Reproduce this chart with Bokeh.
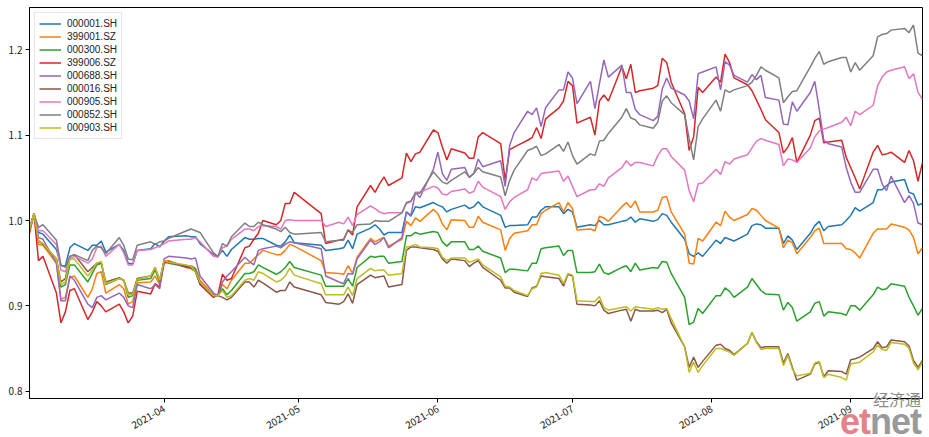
import math
import pandas as pd
from bokeh.plotting import figure
from bokeh.layouts import column
from bokeh.models import (ColumnDataSource, FixedTicker, DatetimeTickFormatter,
                          PrintfTickFormatter, Legend, LegendItem, Range1d, Div)
from bokeh.embed import file_html
from bokeh.resources import INLINE

# ---- trading days (2021) ----
MAR = [2, 3, 4, 5, 8, 9, 10, 11, 12, 15, 16, 17, 18, 19, 22, 23, 24, 25, 26, 29, 30, 31]
APR = [1, 2, 6, 7, 8, 9, 12, 13, 14, 15, 16, 19, 20, 21, 22, 23, 26, 27, 28, 29, 30]
MAY = [6, 7, 10, 11, 12, 13, 14, 17, 18, 19, 20, 21, 24, 25, 26, 27, 28, 31]
JUN = [1, 2, 3, 4, 7, 8, 9, 10, 11, 15, 16, 17, 18, 21, 22, 23, 24, 25, 28, 29, 30]
JUL = [1, 2, 5, 6, 7, 8, 9, 12, 13, 14, 15, 16, 19, 20, 21, 22, 23, 26, 27, 28, 29, 30]
AUG = [2, 3, 4, 5, 6, 9, 10, 11, 12, 13, 16, 17, 18, 19, 20, 23, 24, 25, 26, 27, 30, 31]
SEP = [1, 2, 3, 6, 7, 8, 9, 10, 13, 14, 15, 16, 17]

DATES = ([f"2021-03-{d:02d}" for d in MAR] + [f"2021-04-{d:02d}" for d in APR] +
         [f"2021-05-{d:02d}" for d in MAY] + [f"2021-06-{d:02d}" for d in JUN] +
         [f"2021-07-{d:02d}" for d in JUL] + [f"2021-08-{d:02d}" for d in AUG] +
         [f"2021-09-{d:02d}" for d in SEP])

NAMES = ["000001.SH", "399001.SZ", "000300.SH", "399006.SZ", "000688.SH",
         "000016.SH", "000905.SH", "000852.SH", "000903.SH"]

S000001 = [0.990, 1.008, 0.986, 0.984, 0.966, 0.947, 0.947, 0.968, 0.973, 0.965, 0.971, 0.971, 0.976, 0.963, 0.972, 0.965, 0.950, 0.949, 0.965, 0.967, 0.973, 0.969,
           0.976, 0.981, 0.982, 0.981, 0.981, 0.973, 0.960, 0.958, 0.965, 0.958, 0.966, 0.980, 0.978, 0.978, 0.979, 0.979, 0.971, 0.970, 0.975, 0.983, 0.974,
           0.971, 0.965, 0.967, 0.968, 0.977, 0.967, 0.984, 0.991, 0.995, 0.990, 0.983, 0.986, 0.986, 1.010, 1.005, 1.016, 1.015, 1.021,
           1.018, 1.016, 1.010, 1.013, 1.018, 1.014, 1.016, 1.022, 1.016, 1.006, 0.992, 0.994, 0.994, 0.995, 1.004, 1.004, 1.012, 1.016, 1.016, 1.008, 1.013,
           1.010, 0.992, 0.995, 0.994, 1.000, 0.995, 0.995, 0.999, 1.000, 1.004, 0.998, 1.002, 0.999, 1.001, 1.008, 1.006, 0.998, 0.978, 0.961, 0.958, 0.962, 0.958,
           0.977, 0.973, 0.980, 0.978, 0.976, 0.984, 0.994, 0.996, 0.995, 0.991, 0.991, 0.973, 0.982, 0.977, 0.966, 0.985, 0.994, 0.999, 0.988, 0.993, 0.995, 1.000,
           1.006, 1.015, 1.011, 1.021, 1.036, 1.036, 1.041, 1.045, 1.048, 1.033, 1.031, 1.018, 1.020]

S399001 = [0.990, 1.008, 0.972, 0.971, 0.950, 0.908, 0.910, 0.933, 0.935, 0.910, 0.920, 0.938, 0.940, 0.915, 0.925, 0.920, 0.902, 0.905, 0.927, 0.928, 0.935, 0.925,
           0.952, 0.953, 0.946, 0.947, 0.944, 0.930, 0.913, 0.912, 0.925, 0.920, 0.930, 0.950, 0.950, 0.955, 0.960, 0.965, 0.960, 0.960, 0.965, 0.972, 0.970,
           0.953, 0.939, 0.938, 0.937, 0.947, 0.938, 0.957, 0.979, 0.975, 0.978, 0.980, 0.970, 0.978, 0.999, 0.994, 1.003, 0.999, 1.013,
           1.008, 0.996, 0.989, 1.001, 1.000, 0.992, 0.992, 1.005, 0.998, 0.989, 0.965, 0.979, 0.985, 0.988, 0.995, 0.995, 1.008, 1.012, 1.021, 1.010, 1.021,
           1.014, 0.989, 0.990, 0.988, 1.005, 1.003, 0.999, 1.016, 1.021, 1.015, 1.023, 1.010, 1.010, 1.012, 1.027, 1.028, 1.010, 0.984, 0.950, 0.949, 0.979, 0.976,
           0.998, 0.994, 1.011, 1.004, 1.000, 1.007, 1.014, 1.012, 1.006, 1.000, 0.991, 0.968, 0.977, 0.974, 0.961, 0.980, 0.988, 0.991, 0.973, 0.973, 0.973, 0.967,
           0.966, 0.962, 0.956, 0.985, 0.990, 0.990, 0.990, 0.996, 0.992, 0.989, 0.980, 0.961, 0.968]

S000300 = [0.990, 1.008, 0.976, 0.973, 0.955, 0.922, 0.925, 0.948, 0.948, 0.928, 0.938, 0.948, 0.950, 0.925, 0.932, 0.930, 0.910, 0.912, 0.930, 0.932, 0.942, 0.928,
           0.952, 0.950, 0.946, 0.946, 0.943, 0.928, 0.912, 0.913, 0.920, 0.913, 0.918, 0.938, 0.938, 0.940, 0.948, 0.945, 0.937, 0.940, 0.945, 0.952, 0.945,
           0.936, 0.923, 0.923, 0.923, 0.932, 0.923, 0.945, 0.958, 0.957, 0.958, 0.958, 0.950, 0.952, 0.982, 0.982, 0.986, 0.984, 0.987,
           0.986, 0.975, 0.970, 0.975, 0.975, 0.966, 0.966, 0.970, 0.964, 0.956, 0.939, 0.943, 0.943, 0.941, 0.950, 0.950, 0.967, 0.968, 0.970, 0.959, 0.965,
           0.965, 0.939, 0.939, 0.940, 0.949, 0.939, 0.937, 0.945, 0.947, 0.940, 0.950, 0.942, 0.945, 0.944, 0.952, 0.951, 0.938, 0.910, 0.878, 0.881, 0.897, 0.891,
           0.912, 0.912, 0.921, 0.917, 0.910, 0.922, 0.932, 0.925, 0.918, 0.914, 0.913, 0.895, 0.904, 0.898, 0.882, 0.893, 0.903, 0.905, 0.888, 0.893, 0.891, 0.889,
           0.900, 0.900, 0.895, 0.913, 0.922, 0.919, 0.920, 0.926, 0.923, 0.910, 0.900, 0.889, 0.897]

S399006 = [0.985, 1.008, 0.953, 0.958, 0.915, 0.880, 0.893, 0.918, 0.920, 0.884, 0.893, 0.905, 0.900, 0.893, 0.902, 0.893, 0.880, 0.888, 0.917, 0.914, 0.926, 0.922,
           0.950, 0.952, 0.945, 0.944, 0.940, 0.925, 0.910, 0.913, 0.937, 0.930, 0.932, 0.968, 0.970, 0.978, 0.985, 1.000, 0.995, 1.000, 1.020, 1.020, 1.033,
           1.008, 0.973, 0.977, 0.978, 0.989, 0.983, 1.016, 1.041, 1.033, 1.043, 1.051, 1.041, 1.050, 1.079, 1.069, 1.078, 1.080, 1.106,
           1.103, 1.086, 1.071, 1.084, 1.079, 1.073, 1.073, 1.098, 1.103, 1.090, 1.047, 1.083, 1.086, 1.094, 1.097, 1.109, 1.096, 1.119, 1.132, 1.140, 1.163,
           1.158, 1.114, 1.121, 1.100, 1.140, 1.147, 1.140, 1.180, 1.166, 1.183, 1.150, 1.152, 1.155, 1.158, 1.190, 1.185, 1.162, 1.125, 1.082, 1.098, 1.156, 1.150,
           1.168, 1.162, 1.195, 1.185, 1.167, 1.159, 1.152, 1.141, 1.130, 1.118, 1.103, 1.079, 1.086, 1.097, 1.068, 1.100, 1.117, 1.120, 1.091, 1.092, 1.094, 1.074,
           1.062, 1.050, 1.037, 1.080, 1.088, 1.077, 1.078, 1.080, 1.068, 1.082, 1.070, 1.046, 1.068]

S000688 = [0.990, 1.008, 0.980, 0.978, 0.950, 0.906, 0.906, 0.935, 0.930, 0.902, 0.898, 0.910, 0.912, 0.907, 0.915, 0.910, 0.900, 0.898, 0.925, 0.920, 0.925, 0.920,
           0.955, 0.958, 0.956, 0.955, 0.956, 0.935, 0.915, 0.912, 0.928, 0.935, 0.940, 0.957, 0.952, 0.948, 0.965, 0.967, 0.970, 0.968, 0.972, 0.975, 0.974,
           0.967, 0.935, 0.928, 0.926, 0.938, 0.937, 0.955, 0.977, 0.972, 0.975, 0.980, 0.968, 0.980, 1.010, 1.006, 1.033, 1.027, 1.060,
           1.080, 1.055, 1.047, 1.060, 1.062, 1.050, 1.055, 1.072, 1.063, 1.070, 1.040, 1.088, 1.103, 1.128, 1.124, 1.132, 1.110, 1.132, 1.153, 1.153, 1.174,
           1.167, 1.137, 1.163, 1.131, 1.160, 1.188, 1.168, 1.182, 1.150, 1.150, 1.130, 1.124, 1.117, 1.122, 1.154, 1.167, 1.155, 1.147, 1.140, 1.119, 1.172, 1.174,
           1.180, 1.153, 1.186, 1.182, 1.170, 1.162, 1.171, 1.165, 1.170, 1.144, 1.141, 1.113, 1.112, 1.139, 1.128, 1.150, 1.163, 1.130, 1.094, 1.090, 1.086, 1.062,
           1.045, 1.033, 1.033, 1.060, 1.060, 1.043, 1.035, 1.052, 1.021, 1.029, 1.020, 0.997, 0.995]

S000016 = [0.990, 1.008, 0.976, 0.972, 0.955, 0.928, 0.932, 0.958, 0.960, 0.940, 0.945, 0.950, 0.950, 0.928, 0.933, 0.930, 0.915, 0.915, 0.932, 0.935, 0.945, 0.930,
           0.953, 0.951, 0.946, 0.945, 0.940, 0.926, 0.912, 0.912, 0.910, 0.907, 0.910, 0.928, 0.928, 0.922, 0.930, 0.927, 0.916, 0.918, 0.918, 0.928, 0.922,
           0.913, 0.904, 0.902, 0.905, 0.914, 0.903, 0.925, 0.936, 0.933, 0.934, 0.935, 0.922, 0.925, 0.965, 0.969, 0.969, 0.968, 0.966,
           0.964, 0.955, 0.950, 0.955, 0.953, 0.946, 0.950, 0.953, 0.945, 0.930, 0.921, 0.921, 0.916, 0.911, 0.921, 0.923, 0.935, 0.934, 0.932, 0.923, 0.937,
           0.935, 0.902, 0.901, 0.900, 0.906, 0.895, 0.891, 0.895, 0.896, 0.882, 0.896, 0.894, 0.894, 0.895, 0.892, 0.896, 0.880, 0.852, 0.828, 0.840, 0.828, 0.835,
           0.854, 0.855, 0.850, 0.848, 0.843, 0.856, 0.869, 0.858, 0.851, 0.852, 0.852, 0.833, 0.844, 0.828, 0.813, 0.820, 0.832, 0.834, 0.817, 0.824, 0.823, 0.820,
           0.837, 0.838, 0.840, 0.850, 0.858, 0.851, 0.852, 0.860, 0.858, 0.853, 0.836, 0.828, 0.836]

S000905 = [0.990, 1.008, 0.988, 0.988, 0.972, 0.942, 0.940, 0.955, 0.958, 0.950, 0.955, 0.968, 0.970, 0.958, 0.972, 0.962, 0.948, 0.948, 0.965, 0.966, 0.968, 0.970,
           0.973, 0.976, 0.978, 0.978, 0.980, 0.975, 0.958, 0.957, 0.968, 0.970, 0.978, 0.990, 0.990, 0.988, 0.993, 0.994, 0.993, 0.990, 1.000, 1.001, 1.000,
           1.000, 0.993, 0.998, 0.996, 1.004, 0.994, 1.007, 1.017, 1.014, 1.010, 1.008, 1.009, 1.009, 1.020, 1.022, 1.033, 1.033, 1.040,
           1.038, 1.031, 1.030, 1.034, 1.037, 1.032, 1.034, 1.046, 1.039, 1.028, 1.013, 1.022, 1.027, 1.036, 1.050, 1.047, 1.055, 1.056, 1.058, 1.046, 1.052,
           1.040, 1.028, 1.036, 1.036, 1.043, 1.040, 1.050, 1.062, 1.070, 1.064, 1.068, 1.068, 1.064, 1.076, 1.084, 1.084, 1.075, 1.059, 1.035, 1.022, 1.043, 1.044,
           1.060, 1.054, 1.069, 1.066, 1.072, 1.077, 1.085, 1.093, 1.096, 1.094, 1.089, 1.064, 1.072, 1.071, 1.068, 1.085, 1.098, 1.105, 1.107, 1.109, 1.115, 1.121,
           1.111, 1.128, 1.124, 1.135, 1.158, 1.168, 1.174, 1.176, 1.180, 1.166, 1.172, 1.150, 1.142]

S000852 = [0.990, 1.008, 0.992, 0.995, 0.977, 0.948, 0.945, 0.958, 0.960, 0.953, 0.965, 0.970, 0.968, 0.961, 0.980, 0.971, 0.955, 0.954, 0.971, 0.975, 0.972, 0.975,
           0.976, 0.979, 0.988, 0.990, 0.988, 0.986, 0.962, 0.958, 0.973, 0.970, 0.981, 0.997, 0.993, 0.993, 0.998, 0.995, 0.990, 0.987, 0.992, 0.986, 0.984,
           0.986, 0.975, 0.977, 0.977, 0.989, 0.986, 0.995, 0.996, 1.000, 0.999, 0.999, 0.999, 1.009, 1.021, 1.023, 1.032, 1.032, 1.057,
           1.051, 1.045, 1.043, 1.047, 1.057, 1.051, 1.055, 1.062, 1.057, 1.051, 1.029, 1.047, 1.059, 1.082, 1.084, 1.087, 1.076, 1.078, 1.089, 1.081, 1.092,
           1.076, 1.066, 1.078, 1.076, 1.093, 1.094, 1.102, 1.121, 1.131, 1.120, 1.118, 1.112, 1.108, 1.115, 1.140, 1.146, 1.138, 1.124, 1.096, 1.071, 1.110, 1.119,
           1.141, 1.128, 1.153, 1.150, 1.153, 1.158, 1.162, 1.170, 1.180, 1.176, 1.167, 1.138, 1.145, 1.151, 1.152, 1.180, 1.190, 1.198, 1.183, 1.186, 1.191, 1.191,
           1.174, 1.185, 1.176, 1.193, 1.215, 1.218, 1.219, 1.223, 1.225, 1.220, 1.229, 1.196, 1.193]

S000903 = [0.990, 1.008, 0.976, 0.973, 0.955, 0.925, 0.928, 0.955, 0.955, 0.935, 0.942, 0.950, 0.952, 0.926, 0.932, 0.930, 0.913, 0.913, 0.931, 0.935, 0.945, 0.930,
           0.953, 0.951, 0.948, 0.946, 0.940, 0.928, 0.912, 0.912, 0.918, 0.910, 0.912, 0.930, 0.932, 0.930, 0.940, 0.938, 0.928, 0.930, 0.935, 0.944, 0.936,
           0.926, 0.913, 0.913, 0.913, 0.922, 0.912, 0.932, 0.944, 0.941, 0.942, 0.942, 0.936, 0.938, 0.969, 0.970, 0.972, 0.969, 0.968,
           0.967, 0.957, 0.953, 0.956, 0.956, 0.951, 0.953, 0.955, 0.948, 0.934, 0.923, 0.922, 0.918, 0.912, 0.920, 0.922, 0.938, 0.939, 0.936, 0.926, 0.938,
           0.936, 0.906, 0.905, 0.905, 0.911, 0.898, 0.895, 0.898, 0.899, 0.894, 0.899, 0.898, 0.896, 0.898, 0.896, 0.897, 0.885, 0.852, 0.822, 0.834, 0.822, 0.830,
           0.850, 0.850, 0.848, 0.846, 0.842, 0.856, 0.869, 0.857, 0.849, 0.850, 0.850, 0.830, 0.842, 0.826, 0.818, 0.821, 0.833, 0.835, 0.816, 0.820, 0.816, 0.813,
           0.832, 0.833, 0.834, 0.846, 0.854, 0.849, 0.848, 0.857, 0.855, 0.850, 0.833, 0.825, 0.834]

SERIES = [S000001, S399001, S000300, S399006, S000688, S000016, S000905, S000852, S000903]
COLORS = ["#1f77b4", "#ff7f0e", "#2ca02c", "#d62728", "#9467bd",
          "#8c564b", "#e377c2", "#7f7f7f", "#bcbd22"]
TICK_MONTHS = ["2021-04-01", "2021-05-01", "2021-06-01", "2021-07-01", "2021-08-01", "2021-09-01"]
Y_TICKS = [0.8, 0.9, 1.0, 1.1, 1.2]

dates = pd.to_datetime(DATES)
FONT = "Noto Sans CJK SC"
LFONT = "Liberation Sans"

W, H = 929, 437
p = figure(width=W, height=H, x_axis_type="datetime",
           x_range=Range1d(dates[0], dates[-1]), y_range=Range1d(0.7915, 1.2495),
           output_backend="svg", toolbar_location=None,
           min_border_left=29, min_border_right=7, min_border_top=7, min_border_bottom=39)

items = []
for name, vals, col in zip(NAMES, SERIES, COLORS):
    src = ColumnDataSource(dict(x=dates, y=vals))
    r = p.line("x", "y", source=src, line_color=col, line_width=1.5)
    items.append(LegendItem(label=name, renderers=[r]))

legend = Legend(items=items, location="top_left")
legend.label_text_font = LFONT
legend.label_text_font_size = "10px"
legend.label_text_color = "#222222"
legend.label_height = 13
legend.glyph_height = 13
legend.glyph_width = 22
legend.label_standoff = 6
legend.spacing = 0
legend.padding = 4
legend.margin = 5
legend.border_line_color = "#cccccc"
legend.background_fill_alpha = 0.8
p.add_layout(legend)

p.xgrid.visible = False
p.ygrid.visible = False
p.outline_line_color = "black"
p.outline_line_width = 1

tick_ms = [pd.Timestamp(t).value // 10**6 for t in TICK_MONTHS]
p.xaxis.ticker = FixedTicker(ticks=tick_ms)
fmt = "%Y-%m"
p.xaxis.formatter = DatetimeTickFormatter(milliseconds=fmt, seconds=fmt, minsec=fmt, minutes=fmt,
                                          hourmin=fmt, hours=fmt, days=fmt, months=fmt, years=fmt)
p.xaxis.major_label_orientation = math.pi / 6
p.yaxis.ticker = FixedTicker(ticks=Y_TICKS)
p.yaxis.formatter = PrintfTickFormatter(format="%.1f")
for ax in (p.xaxis, p.yaxis):
    ax.major_label_text_font = FONT
    ax.major_label_text_font_size = "10px"
    ax.major_label_text_color = "#222222"
    ax.major_tick_out = 4
    ax.major_tick_in = 0
    ax.minor_tick_out = 0
    ax.minor_tick_in = 0
    ax.axis_line_color = "black"
    ax.major_tick_line_color = "black"
p.yaxis.major_label_standoff = 3
p.xaxis.major_label_standoff = 5

# watermark (site logo overlay), laid over the figure's bottom-right corner
WM_HTML = (
    "<div style=\"width:90px;text-align:right;font-family:'Noto Sans CJK SC';font-size:16px;"
    "line-height:18px;color:#8a8a8a;\">经济通</div>"
    "<div style=\"width:90px;text-align:right;font-family:'Liberation Sans';font-weight:bold;"
    "font-size:36px;line-height:27px;letter-spacing:-1px;\">"
    "<span style=\"color:#e8808a\">et</span><span style=\"color:#9a9a9a\">net</span></div>"
)
wm = Div(text=WM_HTML, width=92, height=48,
         styles={"position": "absolute", "left": "826px", "top": "385px", "z-index": "10",
                 "pointer-events": "none", "overflow": "visible"})

layout = column(p, wm)
open("out.html", "w").write(file_html(layout, INLINE))
